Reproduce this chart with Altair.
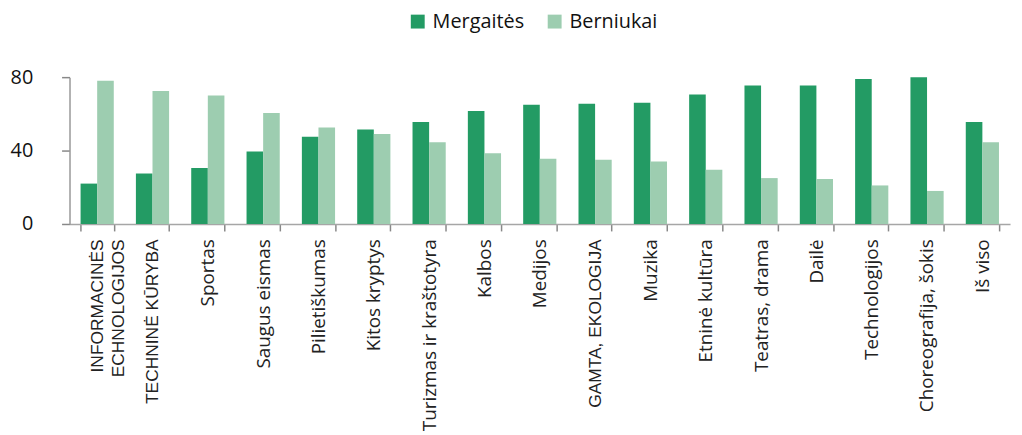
import json
import altair as alt
import pandas as pd

categories = ["INFORMACINĖS ECHNOLOGIJOS", "TECHNINĖ KŪRYBA", "Sportas", "Saugus eismas",
              "Pilietiškumas", "Kitos kryptys", "Turizmas ir kraštotyra", "Kalbos", "Medijos",
              "GAMTA, EKOLOGIJA", "Muzika", "Etninė kultūra", "Teatras, drama", "Dailė",
              "Technologijos", "Choreografija, šokis", "Iš viso"]
girls = [22, 27.5, 30.5, 39.5, 47.5, 51.5, 55.5, 61.5, 65, 65.5, 66, 70.5, 75.5, 75.5, 79, 80, 55.5]
boys = [78, 72.5, 70, 60.5, 52.5, 49, 44.5, 38.5, 35.5, 35, 34, 29.5, 25, 24.5, 21, 18, 44.5]
series = ["Mergaitės", "Berniukai"]
colors = ["#239b64", "#9dcdb0"]
y_ticks = [0, 40, 80]
caps_labels = ["INFORMACINĖS ECHNOLOGIJOS", "TECHNINĖ KŪRYBA", "GAMTA, EKOLOGIJA"]

rows = []
for c, g, b in zip(categories, girls, boys):
    rows.append({"category": c, "series": series[0], "value": g})
    rows.append({"category": c, "series": series[1], "value": b})
df = pd.DataFrame(rows)

test = "indexof(%s, datum.value) >= 0" % json.dumps(caps_labels, ensure_ascii=False)
label_expr = ("datum.value == 'INFORMACINĖS ECHNOLOGIJOS' ? "
              "['INFORMACINĖS', 'ECHNOLOGIJOS'] : datum.label")

chart = alt.Chart(df).mark_bar().encode(
    x=alt.X("category:N", sort=categories, title=None,
            scale=alt.Scale(paddingInner=0.4, paddingOuter=0.2),
            axis=alt.Axis(labelAngle=-90, tickBand="extent", labelExpr=label_expr,
                          labelFont={"condition": {"test": test, "value": "Liberation Sans"}, "value": "Open Sans"},
                          labelFontSize={"condition": {"test": test, "value": 17.5}, "value": 19},
                          labelColor="#222222", domainColor="#a6a6a6", domainWidth=1.5,
                          tickColor="#888888", tickWidth=1.5, tickSize=7, labelPadding=8,
                          labelLineHeight=22, labelLimit=400)),
    xOffset=alt.XOffset("series:N", sort=series),
    y=alt.Y("value:Q", title=None, scale=alt.Scale(domain=[0, 80]),
            axis=alt.Axis(values=y_ticks, grid=False, labelFont="Open Sans", labelFontSize=20,
                          labelColor="#111111", domainColor="#999999", domainWidth=1.5,
                          tickColor="#888888", tickWidth=1.5, tickSize=8, labelPadding=29)),
    color=alt.Color("series:N", sort=series, title=None,
                    scale=alt.Scale(domain=series, range=colors),
                    legend=alt.Legend(orient="none", legendX=341, legendY=-66, direction="horizontal",
                                      symbolType="square", symbolSize=196, symbolStrokeWidth=0,
                                      labelFont="Open Sans", labelFontSize=20, labelColor="#111111",
                                      labelOffset=5, columnPadding=20, padding=0)),
).properties(
    width=948, height=148,
    autosize=alt.AutoSizeParams(type="none"),
    padding={"left": 62, "top": 68, "right": 4, "bottom": 211},
).configure_view(stroke=None)

chart.save("out.html", embed_options={"renderer": "svg", "actions": False})
